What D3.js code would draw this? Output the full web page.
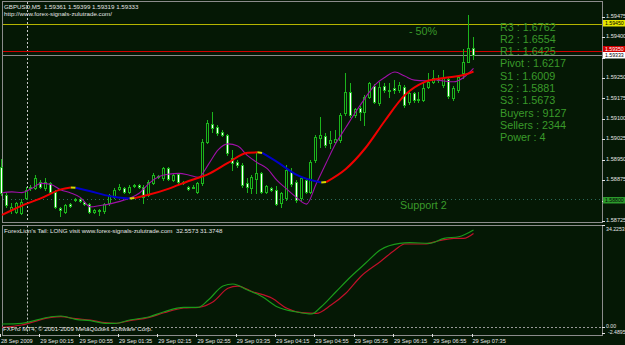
<!DOCTYPE html>
<html>
<head>
<meta charset="utf-8">
<script src="https://cdn.jsdelivr.net/npm/d3@7"></script>
<style>
body { margin: 0; background: #051805; }
svg { display: block; }
text { font-family: "Liberation Sans", Arial, sans-serif; }
</style>
</head>
<body>
<script>
// ---- data ----
var symbol = "GBPUSD,M5";
var headerUrl = "http://www.forex-signals-zulutrade.com/";

// 5 minute bars, 28 Sep 23:35 .. 29 Sep 07:35
var opens = [1.58923,1.58820,1.58765,1.58758,1.58754,1.58809,1.58850,1.58846,1.58868,1.58846,
  1.58865,1.58831,1.58773,1.58758,1.58787,1.58802,1.58806,1.58795,1.58787,1.58758,
  1.58762,1.58762,1.58791,1.58813,1.58842,1.58846,1.58831,1.58854,1.58857,1.58850,
  1.58820,1.58865,1.58887,1.58883,1.58920,1.58876,1.58898,1.58868,1.58850,1.58850,
  1.58831,1.58865,1.59015,1.59081,1.59070,1.59052,1.59041,1.58956,1.58942,1.58931,
  1.58865,1.58846,1.58879,1.58901,1.58831,1.58846,1.58839,1.58791,1.58809,1.58905,
  1.58868,1.58809,1.58876,1.58831,1.58949,1.59030,1.59037,1.59011,1.59015,1.59022,
  1.59121,1.59198,1.59114,1.59140,1.59125,1.59180,1.59220,1.59158,1.59220,1.59206,
  1.59213,1.59206,1.59217,1.59162,1.59195,1.59169,1.59169,1.59217,1.59235,1.59250,
  1.59224,1.59246,1.59176,1.59206,1.59268,1.59309,1.59361];
var highs = [1.58953,1.58828,1.58791,1.58795,1.58806,1.58850,1.58857,1.58894,1.58876,1.58883,
  1.58868,1.58839,1.58776,1.58787,1.58791,1.58809,1.58809,1.58798,1.58791,1.58769,
  1.58769,1.58791,1.58824,1.58846,1.58861,1.58850,1.58857,1.58861,1.58861,1.58857,
  1.58876,1.58901,1.58894,1.58923,1.58923,1.58898,1.58901,1.58872,1.58854,1.58857,
  1.58868,1.59026,1.59096,1.59125,1.59077,1.59059,1.59044,1.58986,1.58949,1.58938,
  1.58883,1.58894,1.58975,1.58905,1.58857,1.58850,1.58854,1.58831,1.58931,1.58920,
  1.58876,1.58890,1.58883,1.58949,1.59041,1.59107,1.59048,1.59055,1.59059,1.59121,
  1.59268,1.59232,1.59140,1.59147,1.59187,1.59235,1.59228,1.59235,1.59232,1.59232,
  1.59242,1.59235,1.59224,1.59202,1.59198,1.59198,1.59235,1.59268,1.59279,1.59261,
  1.59279,1.59254,1.59220,1.59261,1.59356,1.59481,1.59399];
var lows = [1.58820,1.58776,1.58754,1.58754,1.58751,1.58806,1.58839,1.58842,1.58846,1.58839,
  1.58828,1.58773,1.58743,1.58754,1.58776,1.58798,1.58795,1.58784,1.58754,1.58754,
  1.58747,1.58754,1.58784,1.58809,1.58839,1.58828,1.58828,1.58850,1.58846,1.58791,
  1.58817,1.58861,1.58883,1.58876,1.58876,1.58872,1.58865,1.58861,1.58839,1.58846,
  1.58828,1.58857,1.59011,1.59052,1.59041,1.59037,1.58967,1.58912,1.58923,1.58850,
  1.58831,1.58828,1.58828,1.58828,1.58828,1.58835,1.58784,1.58776,1.58802,1.58854,
  1.58795,1.58802,1.58828,1.58828,1.58942,1.58997,1.58997,1.58993,1.59011,1.59015,
  1.59114,1.59107,1.59107,1.59096,1.59077,1.59176,1.59158,1.59151,1.59198,1.59180,
  1.59195,1.59198,1.59143,1.59154,1.59162,1.59162,1.59165,1.59213,1.59232,1.59235,
  1.59217,1.59176,1.59169,1.59198,1.59250,1.59309,1.59319];
var closes = [1.58828,1.58784,1.58776,1.58791,1.58795,1.58839,1.58846,1.58883,1.58850,1.58868,
  1.58831,1.58776,1.58765,1.58784,1.58780,1.58806,1.58798,1.58787,1.58758,1.58765,
  1.58765,1.58787,1.58820,1.58839,1.58850,1.58831,1.58850,1.58857,1.58850,1.58813,
  1.58868,1.58894,1.58890,1.58920,1.58879,1.58894,1.58868,1.58865,1.58842,1.58850,
  1.58865,1.59015,1.59085,1.59066,1.59048,1.59041,1.58975,1.58938,1.58931,1.58857,
  1.58850,1.58887,1.58901,1.58831,1.58854,1.58839,1.58787,1.58828,1.58912,1.58861,
  1.58802,1.58883,1.58831,1.58942,1.59033,1.59041,1.59004,1.59022,1.59026,1.59114,
  1.59198,1.59114,1.59136,1.59125,1.59180,1.59232,1.59162,1.59217,1.59206,1.59202,
  1.59206,1.59224,1.59151,1.59195,1.59169,1.59173,1.59213,1.59235,1.59250,1.59242,
  1.59250,1.59184,1.59213,1.59254,1.59309,1.59360,1.59333];

// slow moving average (red / blue), sampled by bar
var slowBars = [0,4,8,12,14,15,18,22,26,27,30,34,38,42,46,50,52,53,56,60,65,66,70,74,78,82,86,90,94,96];
var slowMA = [1.58747,1.58781,1.58809,1.58841,1.58848,1.58847,1.58834,1.58816,1.58808,1.58809,
  1.58822,1.58844,1.58872,1.58897,1.58938,1.58976,1.58977,1.58975,1.58942,1.58894,
  1.58866,1.58868,1.58916,1.58993,1.59094,1.59187,1.59235,1.59250,1.59261,1.59274];
var slowTurns = [14, 26, 52, 65];

// fast moving average (magenta)
var fastBars = [0,2,4,6,8,10,12,14,16,18,20,22,24,26,28,30,32,34,36,38,40,42,44,46,48,50,
  52,54,56,58,60,62,64,66,68,70,72,74,76,78,80,82,84,86,88,90,92,94,96];
var fastMA = [1.58828,1.58832,1.58829,1.58844,1.58863,1.58859,1.58839,1.58828,1.58811,1.58777,
  1.58782,1.58788,1.58797,1.58809,1.58828,1.58864,1.58888,1.58897,1.58900,1.58894,
  1.58885,1.58932,1.58986,1.59008,1.59000,1.58965,1.58939,1.58917,1.58874,1.58842,
  1.58811,1.58787,1.58863,1.58938,1.59011,1.59068,1.59125,1.59178,1.59226,1.59253,
  1.59272,1.59257,1.59242,1.59240,1.59244,1.59239,1.59236,1.59252,1.59285];

// ForexLion's Tail sub window
var tailBarsA = [0,4,10,12,15,18,21,23,26,30,33,37,40,42,45,47,50,53,56,60,63,65,68,71,74,77,81,83,87,90,93,96];
var tailA = [0.88,1.11,3.33,3.57,2.46,1.99,1.11,1.11,2.22,3.33,5.02,6.50,6.50,8.96,13.67,14.35,
  12.33,10.07,6.70,4.92,4.24,6.70,11.75,16.81,21.32,25.80,28.06,28.26,28.06,29.74,30.28,32.5573];
var tailBarsB = [0,4,10,12,15,18,21,23,26,30,33,37,40,43,46,48,51,55,58,61,64,67,70,73,77,80,82,86,89,92,94,96];
var tailB = [-0.24,0.54,3.13,3.33,2.66,2.22,1.31,1.11,1.99,3.13,4.68,6.26,6.50,8.39,12.90,13.67,
  11.75,9.53,6.16,4.68,4.48,7.28,11.22,16.81,21.86,25.80,27.82,27.82,28.93,29.74,29.74,31.3748];
var subMax = 34.2253, subMin = -2.4895;
var subLabels = ["34.2253", "0.00", "-2.4895"];

// axes
var priceTicks = [1.59475,1.59400,1.59325,1.59250,1.59175,1.59100,1.59025,1.58950,1.58875,1.58800,1.58725];
var timeTickBars = [0,8,16,24,32,40,48,56,64,72,80,88,96];
var timeTickLabels = ["28 Sep 2009","29 Sep 00:15","29 Sep 00:55","29 Sep 01:35","29 Sep 02:15",
  "29 Sep 02:55","29 Sep 03:35","29 Sep 04:15","29 Sep 04:55","29 Sep 05:35","29 Sep 06:15",
  "29 Sep 06:55","29 Sep 07:35"];
var daySeparatorBar = 5;

// chart objects
var halfLevel = 1.59450;
var r1Line = 1.59350;
var supportLevel = 1.58805;
var supportLabel = 1.58800;
var pivotNames = ["R3","R2","R1","Pivot","S1","S2","S3","Buyers","Sellers","Power"];
var pivotValues = ["1.6762","1.6554","1.6425","1.6217","1.6009","1.5881","1.5673","9127","2344","4"];

// ---- drawing ----
const WIDTH = 625, HEIGHT = 345;
const LEFT = 2, RIGHT = 602;
const MAIN_TOP = 1, MAIN_BOTTOM = 222;
const SUB_TOP = 224.5, SUB_BOTTOM = 334;
const BG = "#051805";
const FRAME = "#8c8c8c";
const SMALL = "#e4e4e4";
const GREEN_TEXT = "#3a9a2a";
const CANDLE = "#1cb41c";

var svg = d3.select("body").append("svg").attr("width", WIDTH).attr("height", HEIGHT);
svg.append("rect").attr("width", WIDTH).attr("height", HEIGHT).attr("fill", BG);

var x = d3.scaleLinear().domain([0, 96]).range([2, 473.5]);
var y = d3.scaleLinear().domain([1.58725, 1.59475]).range([221, 16.7]);
var ySub = d3.scaleLinear().domain([subMin, subMax]).range([SUB_BOTTOM, 225]);

var px = function (v) { return Math.round(v) + 0.5; };

// frames
var frames = svg.append("g").attr("fill", "none").attr("stroke", FRAME).attr("shape-rendering", "crispEdges");
frames.append("rect").attr("x", px(LEFT)).attr("y", px(MAIN_TOP)).attr("width", RIGHT - LEFT).attr("height", MAIN_BOTTOM - MAIN_TOP);
frames.append("rect").attr("x", px(LEFT)).attr("y", px(SUB_TOP)).attr("width", RIGHT - LEFT).attr("height", SUB_BOTTOM - SUB_TOP);

// day separator
[[MAIN_TOP, MAIN_BOTTOM], [SUB_TOP, SUB_BOTTOM]].forEach(function (p) {
  svg.append("line").attr("x1", px(x(daySeparatorBar))).attr("x2", px(x(daySeparatorBar)))
    .attr("y1", p[0] + 1).attr("y2", p[1])
    .attr("stroke", "#c8c8c8").attr("stroke-dasharray", "2,2");
});

// horizontal levels
var levels = svg.append("g").attr("shape-rendering", "crispEdges");
levels.append("line").attr("x1", LEFT + 1).attr("x2", RIGHT).attr("y1", px(y(supportLevel))).attr("y2", px(y(supportLevel)))
  .attr("stroke", "#2c6a5a").attr("stroke-dasharray", "1,3");
levels.append("line").attr("x1", LEFT + 1).attr("x2", RIGHT).attr("y1", px(y(halfLevel))).attr("y2", px(y(halfLevel)))
  .attr("stroke", "#b4b400");
levels.append("line").attr("x1", LEFT + 1).attr("x2", RIGHT).attr("y1", px(y(r1Line))).attr("y2", px(y(r1Line)))
  .attr("stroke", "#d00000");
var lastClose = closes[closes.length - 1];
levels.append("line").attr("x1", LEFT + 1).attr("x2", RIGHT).attr("y1", px(y(lastClose))).attr("y2", px(y(lastClose)))
  .attr("stroke", "#8a8a8a");

// candles
var candles = opens.map(function (o, i) {
  return { i: i, o: o, h: highs[i], l: lows[i], c: closes[i] };
});
var cg = svg.append("g").attr("shape-rendering", "crispEdges");
cg.selectAll("line").data(candles).enter().append("line")
  .attr("x1", function (d) { return Math.round(x(d.i)) - 0.5; })
  .attr("x2", function (d) { return Math.round(x(d.i)) - 0.5; })
  .attr("y1", function (d) { return Math.round(y(d.h)); })
  .attr("y2", function (d) { return Math.round(y(d.l)) + 1; })
  .attr("stroke", CANDLE);
cg.selectAll("rect").data(candles).enter().append("rect")
  .attr("x", function (d) { return Math.round(x(d.i)) - 1.5; })
  .attr("width", 2)
  .attr("y", function (d) { return Math.round(y(Math.max(d.o, d.c))) + 0.5; })
  .attr("height", function (d) {
    return Math.max(1, Math.round(y(Math.min(d.o, d.c))) - Math.round(y(Math.max(d.o, d.c))));
  })
  .attr("fill", function (d) { return d.c < d.o ? "#ffffff" : BG; })
  .attr("stroke", CANDLE);

// fast MA
var maLine = d3.line()
  .x(function (d) { return x(d[0]); })
  .y(function (d) { return y(d[1]); })
  .curve(d3.curveMonotoneX);
svg.append("path").attr("d", maLine(d3.zip(fastBars, fastMA)))
  .attr("fill", "none").attr("stroke", "#a010a8").attr("stroke-width", 1.1);

// slow MA, coloured by direction, yellow where it turns
var slowPts = d3.zip(slowBars, slowMA);
var runs = [];
for (var k = 0; k < slowPts.length - 1; k++) {
  var a = slowPts[k], b = slowPts[k + 1];
  var col = slowTurns.indexOf(a[0]) >= 0 ? "#d8d800" : (b[1] >= a[1] ? "#f00000" : "#0000c8");
  if (runs.length && runs[runs.length - 1].col === col) runs[runs.length - 1].pts.push(b);
  else runs.push({ col: col, pts: [a, b] });
}
svg.append("g").selectAll("path").data(runs).enter().append("path")
  .attr("d", function (r) { return maLine(r.pts); })
  .attr("fill", "none")
  .attr("stroke", function (r) { return r.col; })
  .attr("stroke-width", 2);

// header texts
svg.append("text").attr("x", 4).attr("y", 8.5).attr("font-size", 6.2).attr("fill", SMALL)
  .attr("xml:space", "preserve")
  .text(symbol + "  " + [opens, highs, lows, closes].map(function (s) { return s[s.length - 1].toFixed(5); }).join(" "));
svg.append("text").attr("x", 4).attr("y", 15.5).attr("font-size", 6.2).attr("fill", SMALL).text(headerUrl);

// pivot block
svg.append("g").selectAll("text").data(pivotNames).enter().append("text")
  .attr("x", 500)
  .attr("y", function (d, i) { return 30.5 + i * 12.3; })
  .attr("font-size", 10.8)
  .attr("fill", GREEN_TEXT)
  .text(function (d, i) { return d + " : " + pivotValues[i]; });
svg.append("text").attr("x", 409).attr("y", 35).attr("font-size", 10.8).attr("fill", GREEN_TEXT).text("- 50%");
svg.append("text").attr("x", 400).attr("y", 209).attr("font-size", 10.8).attr("fill", GREEN_TEXT).text("Support 2");

// price axis (labels hidden behind the marker boxes are left out, as in the terminal)
var boxes = [
  { v: halfLevel, fill: "#e6e600", ink: "#000000", dy: -4 },
  { v: r1Line, fill: "#d00000", ink: "#ffffff", dy: -5 },
  { v: lastClose, fill: "#ffffff", ink: "#000000", dy: -3 },
  { v: supportLabel, fill: "#2c9a2c", ink: "#000000", dy: -4 }
];
var freeTicks = priceTicks.filter(function (t) {
  return boxes.every(function (b) { return Math.abs(y(t) - y(b.v)) > 6; });
});
var axisG = svg.append("g");
axisG.selectAll("line").data(priceTicks).enter().append("line")
  .attr("x1", RIGHT).attr("x2", RIGHT + 3)
  .attr("y1", function (d) { return px(y(d)); }).attr("y2", function (d) { return px(y(d)); })
  .attr("stroke", SMALL).attr("shape-rendering", "crispEdges");
axisG.selectAll("text").data(freeTicks).enter().append("text")
  .attr("x", 606).attr("y", function (d) { return y(d) + 1.2; })
  .attr("font-size", 5.6).attr("fill", SMALL)
  .text(function (d) { return d.toFixed(5); });

var boxG = svg.append("g");
boxes.forEach(function (b) {
  var top = Math.round(y(b.v)) + b.dy;
  boxG.append("rect").attr("x", 603).attr("y", top).attr("width", 22).attr("height", 6.5).attr("fill", b.fill);
  boxG.append("text").attr("x", 605).attr("y", top + 5.2).attr("font-size", 5.2).attr("fill", b.ink)
    .text(b.v.toFixed(5));
});

// sub window
svg.append("line").attr("x1", LEFT + 1).attr("x2", RIGHT).attr("y1", px(ySub(0))).attr("y2", px(ySub(0)))
  .attr("stroke", "#9a9a9a").attr("stroke-dasharray", "2,2").attr("shape-rendering", "crispEdges");

var subLine = d3.line()
  .x(function (d) { return x(d[0]); })
  .y(function (d) { return ySub(d[1]); })
  .curve(d3.curveMonotoneX);
svg.append("path").attr("d", subLine(d3.zip(tailBarsB, tailB)))
  .attr("fill", "none").attr("stroke", "#c0102a").attr("stroke-width", 1.2);
svg.append("path").attr("d", subLine(d3.zip(tailBarsA, tailA)))
  .attr("fill", "none").attr("stroke", "#1a9a1a").attr("stroke-width", 1.2);

svg.append("text").attr("x", 4).attr("y", 233).attr("font-size", 6.2).attr("fill", SMALL)
  .attr("xml:space", "preserve")
  .text("ForexLion's Tail: LONG visit www.forex-signals-zulutrade.com  " + tailA[tailA.length - 1].toFixed(4) + " " + tailB[tailB.length - 1].toFixed(4));
svg.append("text").attr("x", 3).attr("y", 331).attr("font-size", 6.2).attr("fill", SMALL)
  .text("FXPro MT4, \u00a9 2001-2009 MetaQuotes Software Corp.");

// sub window scale: tick marks, top value under the frame, zero and minimum crowded at the bottom
var subTickVals = [subMax, 0, subMin];
var subG = svg.append("g");
subG.selectAll("line").data(subTickVals).enter().append("line")
  .attr("x1", RIGHT).attr("x2", RIGHT + 3)
  .attr("y1", function (d) { return px(Math.min(ySub(d), SUB_BOTTOM - 1)); })
  .attr("y2", function (d) { return px(Math.min(ySub(d), SUB_BOTTOM - 1)); })
  .attr("stroke", SMALL).attr("shape-rendering", "crispEdges");
var subLabelPos = [[606, 230.5], [606, 328], [608, 333.5]];
subLabels.forEach(function (label, i) {
  subG.append("g")
    .attr("transform", "translate(" + subLabelPos[i][0] + "," + subLabelPos[i][1] + ")")
    .append("text")
    .attr("font-size", 5.2).attr("fill", SMALL)
    .text(label);
});

// time axis
var timeG = svg.append("g");
timeG.selectAll("line").data(timeTickBars).enter().append("line")
  .attr("x1", function (d) { return px(x(d) - 2); }).attr("x2", function (d) { return px(x(d) - 2); })
  .attr("y1", SUB_BOTTOM).attr("y2", SUB_BOTTOM + 3)
  .attr("stroke", SMALL).attr("shape-rendering", "crispEdges");
timeG.selectAll("text").data(timeTickBars).enter().append("text")
  .attr("x", function (d) { return Math.max(1, x(d) - 1); })
  .attr("y", 343)
  .attr("font-size", 5.6).attr("fill", SMALL)
  .text(function (d, i) { return timeTickLabels[i]; });
</script>
</body>
</html>
